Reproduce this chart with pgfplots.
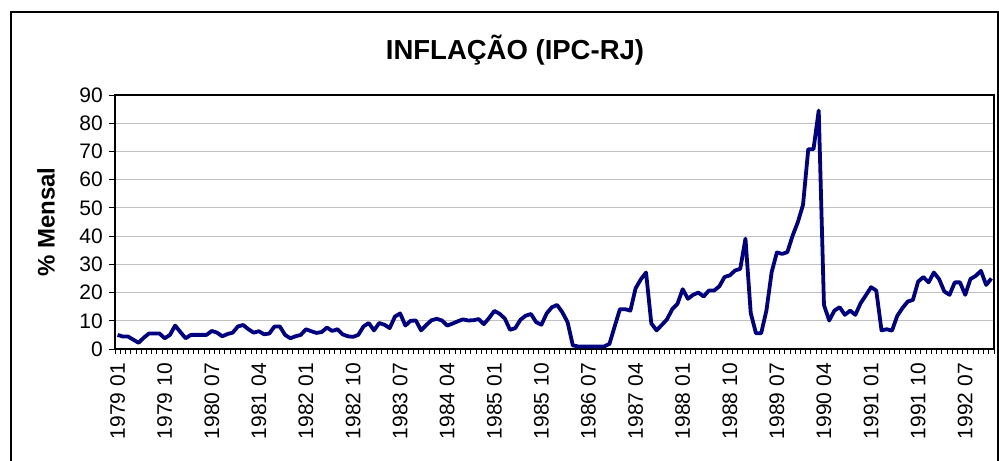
\documentclass[border=0pt]{standalone}
\usepackage{fontspec}
\setmainfont{Liberation Sans}
\usepackage{pgfplots}
\pgfplotsset{compat=1.18}
\definecolor{lineNavy}{HTML}{000080}
\definecolor{gridGray}{HTML}{C0C0C0}

% IPC-RJ, variacao mensal, 1979 01 .. 1992 12 (indice 0..167)
\pgfplotstableread{
i v
0 5.0
1 4.4
2 4.4
3 3.3
4 2.2
5 4.0
6 5.5
7 5.5
8 5.5
9 3.8
10 5.0
11 8.3
12 6.0
13 3.8
14 5.0
15 5.0
16 5.0
17 5.0
18 6.4
19 5.8
20 4.5
21 5.3
22 5.8
23 8.0
24 8.5
25 7.0
26 5.8
27 6.3
28 5.2
29 5.5
30 8.0
31 8.0
32 5.0
33 3.8
34 4.5
35 5.0
36 7.0
37 6.3
38 5.7
39 6.0
40 7.6
41 6.4
42 7.0
43 5.2
44 4.5
45 4.3
46 5.0
47 8.0
48 9.2
49 6.6
50 9.2
51 8.6
52 7.4
53 11.5
54 12.6
55 8.3
56 10.0
57 10.1
58 6.6
59 8.5
60 10.2
61 10.7
62 10.1
63 8.3
64 9.0
65 9.8
66 10.5
67 10.1
68 10.2
69 10.6
70 8.8
71 11.0
72 13.5
73 12.5
74 10.8
75 6.8
76 7.4
77 10.4
78 11.8
79 12.4
80 9.5
81 8.6
82 12.6
83 14.8
84 15.6
85 13.0
86 9.5
87 1.3
88 0.9
89 0.9
90 0.9
91 0.9
92 0.9
93 0.9
94 1.8
95 8.0
96 14.1
97 14.1
98 13.6
99 21.5
100 24.7
101 27.1
102 9.1
103 6.6
104 8.5
105 10.5
106 14.1
107 16.0
108 21.2
109 17.8
110 19.2
111 20.0
112 18.6
113 20.7
114 20.7
115 22.2
116 25.5
117 26.1
118 27.8
119 28.4
120 39.1
121 12.8
122 5.6
123 5.6
124 13.6
125 27.2
126 34.2
127 33.7
128 34.3
129 40.1
130 44.9
131 51.1
132 70.8
133 70.8
134 84.5
135 15.6
136 10.1
137 13.6
138 14.8
139 12.1
140 13.6
141 12.1
142 16.2
143 19.0
144 21.9
145 20.7
146 6.6
147 7.0
148 6.5
149 11.7
150 14.5
151 16.8
152 17.4
153 23.9
154 25.5
155 23.6
156 27.1
157 24.8
158 20.4
159 19.2
160 23.6
161 23.6
162 19.2
163 24.8
164 25.9
165 27.7
166 22.7
167 25.0
}\ipcrj

\begin{document}
\begin{tikzpicture}
\useasboundingbox (-115bp,-112bp) rectangle (884bp,349bp);
% moldura do grafico (a borda inferior fica fora da figura)
\draw[black, line width=1.3bp] (-104bp,-130bp) rectangle (883bp,337bp);
\begin{axis}[
    at={(0,0)}, anchor=south west,
    scale only axis, width=879bp, height=254bp,
    xmin=-0.5, xmax=167.5, ymin=0, ymax=90,
    axis line style={black, line width=1.3bp},
    tick style={black, line width=0.8bp},
    tick align=outside,
    xtick pos=bottom, ytick pos=left,
    ytick={0,10,...,90},
    major tick length=6bp,
    minor tick length=4.5bp,
    xtick={0,9,...,162},
    xticklabels={1979 01,1979 10,1980 07,1981 04,1982 01,1982 10,1983 07,1984 04,1985 01,1985 10,1986 07,1987 04,1988 01,1988 10,1989 07,1990 04,1991 01,1991 10,1992 07},
    minor xtick={-0.5,0.5,...,167.5},
    major x tick style={draw=none},
    xticklabel style={rotate=90, anchor=east, inner sep=0pt},
    xticklabel shift=8bp,
    yticklabel style={inner sep=0pt},
    yticklabel shift=6bp,
    tick label style={font=\fontsize{21bp}{25bp}\selectfont, /pgf/number format/assume math mode=true},
    ymajorgrids, grid style={gridGray, line width=1bp},
]
\addplot[lineNavy, line width=3.8bp, line join=round, mark=none] table[x=i, y=v] {\ipcrj};
\end{axis}
\node[font=\bfseries\fontsize{27.5bp}{32bp}\selectfont] at (400bp,299bp) {INFLAÇÃO (IPC-RJ)};
\node[font=\bfseries\fontsize{24bp}{28bp}\selectfont, rotate=90] at (-69bp,127bp) {\% Mensal};
\end{tikzpicture}
\end{document}
